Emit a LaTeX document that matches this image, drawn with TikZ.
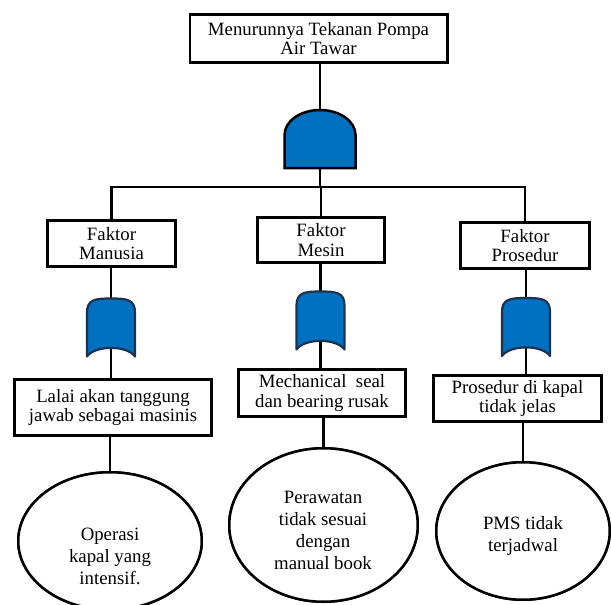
\documentclass[tikz,border=0pt]{standalone}
\usepackage{fontspec}
\setmainfont{Liberation Serif}
\usetikzlibrary{shapes.geometric}
\definecolor{gateblue}{HTML}{0070C0}
\definecolor{gateedge}{HTML}{1C3350}
\begin{document}
\begin{tikzpicture}[x=1pt,y=-1pt,
  box/.style={draw,line width=2.6pt,fill=white,align=center,inner sep=0pt,
    font=\fontsize{18.8}{19.5}\selectfont},
  ell/.style={draw,ellipse,line width=2.5pt,fill=white,inner sep=0pt},
  etext/.style={align=center,inner sep=0pt,font=\fontsize{18.8}{22}\selectfont},
  conn/.style={line width=2.1pt},
  gnode/.style={inner sep=0pt,outer sep=0pt,minimum width=48,minimum height=58},
  anode/.style={inner sep=0pt,outer sep=0pt,minimum width=71,minimum height=58},
  orgatepic/.pic={
    \draw[line width=2.2pt,draw=gateedge,fill=gateblue,line join=round]
      (-24,29) -- (-24,-15) .. controls (-24,-28) and (-16,-29) .. (0,-29)
      .. controls (16,-29) and (24,-28) .. (24,-15) -- (24,29)
      .. controls (16,17.5) and (-16,17.5) .. cycle;
  },
  andgatepic/.pic={
    \draw[line width=2.5pt,draw=black,fill=gateblue,line join=miter]
      (-35.5,29) -- (-35.5,-4) .. controls (-35.5,-17.8) and (-19.6,-29) .. (0,-29)
      .. controls (19.6,-29) and (35.5,-17.8) .. (35.5,-4) -- (35.5,29) -- cycle;
  }
]
\useasboundingbox (0,0) rectangle (611,605);

% nodes (positions)
\node[box,minimum width=257.4,minimum height=48.4] (top) at (318.5,38.5) {Menurunnya Tekanan Pompa\\Air Tawar};
\node[anode] (and) at (320,139) {};
\coordinate (bar) at (0,187);

\node[box,minimum width=128.4,minimum height=46.4] (fm) at (111.5,243.5) {Faktor\\Manusia};
\node[box,minimum width=127.4,minimum height=45.4] (fme) at (321,240) {Faktor\\Mesin};
\node[box,minimum width=129.4,minimum height=46.4] (fp) at (525,245.5) {Faktor\\Prosedur};

\node[gnode] (g1) at (111,327.5) {};
\node[gnode] (g2) at (320.5,320.5) {};
\node[gnode] (g3) at (526,327) {};

\node[box,minimum width=197.4,minimum height=56.4] (lalai) at (113,407.5) {Lalai akan tanggung\\jawab sebagai masinis};
\node[box,minimum width=167.4,minimum height=47.4] (mech) at (322,393) {Mechanical~ seal\\dan bearing rusak};
\node[box,minimum width=168.4,minimum height=46.4] (pros) at (517.5,398.5) {Prosedur di kapal\\tidak jelas};

\node[ell,minimum width=183.5,minimum height=137.5] (e1) at (110,541) {};
\node[ell,minimum width=188.5,minimum height=153.5] (e2) at (323.5,525) {};
\node[ell,minimum width=173.5,minimum height=137.5] (e3) at (523,531) {};

% connectors (drawn first, behind)
\draw[conn] (and.north) -- (and.north |- top.south);
\draw[conn] (and.south) -- (and.south |- bar);
\draw[conn] (fm.north) -- (fm.north |- bar) -- (fp.north |- bar) -- (fp.north);
\draw[conn] (fme.north) -- (fme.north |- bar);
\draw[conn] (g1.north) -- (g1.north |- fm.south);
\draw[conn] (g2.north) -- (g2.north |- fme.south);
\draw[conn] (g3.north) -- (g3.north |- fp.south);
\draw[conn] (g1.center) -- (g1.center |- lalai.north);
\draw[conn] (g2.center) -- (g2.center |- mech.north);
\draw[conn] (g3.center) -- (g3.center |- pros.north);
\draw[conn] (e1.north) -- (e1.north |- lalai.south);
\draw[conn] (e2.north) -- (e2.north |- mech.south);
\draw[conn] (e3.north) -- (e3.north |- pros.south);

% redraw shapes on top
\node[box,minimum width=257.4,minimum height=48.4] at (top) {Menurunnya Tekanan Pompa\\Air Tawar};
\pic at (and) {andgatepic};
\node[box,minimum width=128.4,minimum height=46.4] at (fm) {Faktor\\Manusia};
\node[box,minimum width=127.4,minimum height=45.4] at (fme) {Faktor\\Mesin};
\node[box,minimum width=129.4,minimum height=46.4] at (fp) {Faktor\\Prosedur};
\pic at (g1) {orgatepic};
\pic at (g2) {orgatepic};
\pic at (g3) {orgatepic};
\node[box,minimum width=197.4,minimum height=56.4] at (lalai) {Lalai akan tanggung\\jawab sebagai masinis};
\node[box,minimum width=167.4,minimum height=47.4] at (mech) {Mechanical~ seal\\dan bearing rusak};
\node[box,minimum width=168.4,minimum height=46.4] at (pros) {Prosedur di kapal\\tidak jelas};
\node[ell,minimum width=183.5,minimum height=137.5] at (e1) {};
\node[ell,minimum width=188.5,minimum height=153.5] at (e2) {};
\node[ell,minimum width=173.5,minimum height=137.5] at (e3) {};

\node[etext] (t1) at (110,556) {Operasi\\kapal yang\\intensif.};
\node[etext] (t2) at (323,530) {Perawatan\\tidak sesuai\\dengan\\manual book};
\node[etext] (t3) at (523,536) {PMS tidak\\terjadwal};
\end{tikzpicture}
\end{document}
